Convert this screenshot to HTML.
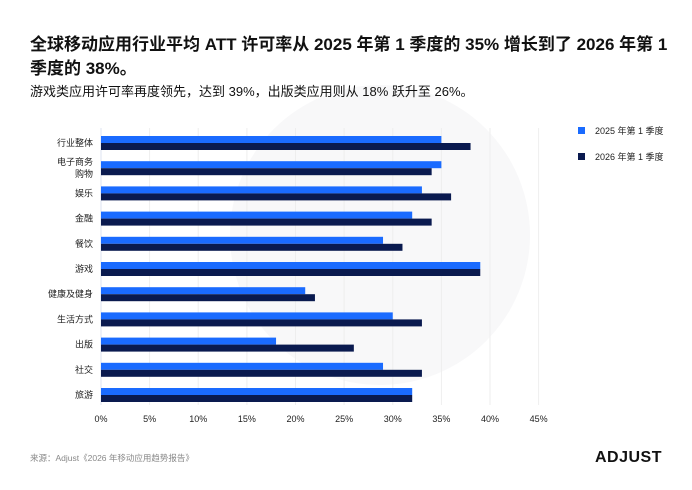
<!DOCTYPE html>
<html><head><meta charset="utf-8"><style>
body{margin:0;width:692px;height:490px;background:#fff;font-family:"Liberation Sans","Noto Sans CJK SC",sans-serif;position:relative;overflow:hidden}
.t{position:absolute;left:30px;top:33px;font-size:17px;font-weight:bold;line-height:24px;color:#111;width:640px;z-index:2}
.s{position:absolute;left:30px;top:81px;font-size:13px;color:#111;z-index:2}
svg{z-index:1}
</style></head><body>
<svg width="692" height="490" style="position:absolute;left:0;top:0" font-family="Liberation Sans, Noto Sans CJK SC, sans-serif">
<circle cx="380" cy="235" r="150" fill="#f8f8f9"/>
<g stroke="#eee" stroke-width="1">
<line x1="149.6" y1="128" x2="149.6" y2="405"/><line x1="198.2" y1="128" x2="198.2" y2="405"/><line x1="246.9" y1="128" x2="246.9" y2="405"/><line x1="295.5" y1="128" x2="295.5" y2="405"/><line x1="344.1" y1="128" x2="344.1" y2="405"/><line x1="392.8" y1="128" x2="392.8" y2="405"/><line x1="441.4" y1="128" x2="441.4" y2="405"/><line x1="490" y1="128" x2="490" y2="405"/><line x1="538.6" y1="128" x2="538.6" y2="405"/>
</g>
<line x1="101" y1="128" x2="101" y2="405" stroke="#dde3f0"/>
<g id="bars"></g>
<g font-size="9" fill="#222" text-anchor="middle">
<text x="101" y="422">0%</text><text x="149.6" y="422">5%</text><text x="198.2" y="422">10%</text><text x="246.9" y="422">15%</text><text x="295.5" y="422">20%</text><text x="344.1" y="422">25%</text><text x="392.8" y="422">30%</text><text x="441.4" y="422">35%</text><text x="490" y="422">40%</text><text x="538.6" y="422">45%</text>
</g>
<rect x="578" y="127" width="7" height="7" fill="#1a6bff"/><text x="595" y="134" font-size="9" fill="#222">2025 年第 1 季度</text>
<rect x="578" y="153" width="7" height="7" fill="#0a1a4f"/><text x="595" y="160" font-size="9" fill="#222">2026 年第 1 季度</text>
<text x="30" y="461" font-size="8.5" fill="#888">来源：Adjust《2026 年移动应用趋势报告》</text>
<text x="662" y="462" font-size="16" font-weight="bold" fill="#111" text-anchor="end" letter-spacing="0.5">ADJUST</text>
</svg>
<div class="t">全球移动应用行业平均 ATT 许可率从 2025 年第 1 季度的 35% 增长到了 2026 年第 1 季度的 38%。</div>
<div class="s">游戏类应用许可率再度领先，达到 39%，出版类应用则从 18% 跃升至 26%。</div>
<script>
var d=[["行业整体",35,38],["电子商务|购物",35,34],["娱乐",33,36],["金融",32,34],["餐饮",29,31],["游戏",39,39],["健康及健身",21,22],["生活方式",30,33],["出版",18,26],["社交",29,33],["旅游",32,32]];
var g=document.getElementById('bars'),h='';
d.forEach(function(r,i){var c=143+i*25.2;
h+='<rect x="101" y="'+(c-7)+'" width="'+(r[1]*9.725)+'" height="7" fill="#1a6bff"/>';
h+='<rect x="101" y="'+c+'" width="'+(r[2]*9.725)+'" height="7" fill="#0a1a4f"/>';
var p=r[0].split('|');
if(p.length==1)h+='<text x="93" y="'+(c+3)+'" font-size="9" fill="#222" text-anchor="end">'+p[0]+'</text>';
else h+='<text x="93" y="'+(c-3)+'" font-size="9" fill="#222" text-anchor="end">'+p[0]+'</text><text x="93" y="'+(c+9)+'" font-size="9" fill="#222" text-anchor="end">'+p[1]+'</text>';
});
g.innerHTML=h;
</script>
</body></html>
